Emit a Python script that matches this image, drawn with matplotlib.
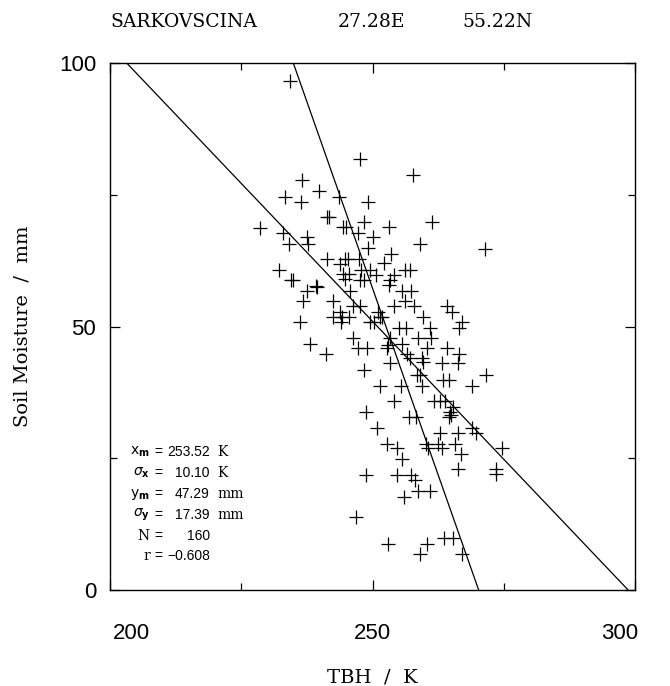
"""Scatter of soil moisture vs TBH at SARKOVSCINA with both regression lines."""

import matplotlib

matplotlib.use("Agg")
import matplotlib.pyplot as plt
import matplotlib.transforms as mtransforms
import numpy as np

# station header
station = "SARKOVSCINA"
lon_label = "27.28E"
lat_label = "55.22N"

tbh = [
    234.3, 247.6, 257.7, 236.5, 239.9, 233.3, 236.3, 243.7, 249.1, 241.3,
    241.8, 228.6, 233.0, 237.6, 234.1, 237.8, 244.3, 244.9, 248.3, 247.3,
    250.0, 253.2, 261.3, 259.0, 249.2, 253.5, 271.4, 241.3, 243.9, 244.8,
    245.3, 247.5, 252.1, 232.1, 244.4, 245.6, 244.8, 247.9, 249.6, 250.7,
    253.3, 254.0, 253.2, 256.2, 257.1, 234.4, 234.9, 247.6, 248.4, 237.6,
    239.2, 239.5, 245.7, 255.6, 257.4, 236.8, 242.5, 256.2, 246.3, 247.6,
    243.8, 251.1, 254.1, 257.9, 264.1, 265.1, 242.5, 244.1, 245.6, 251.4,
    251.9, 259.7, 267.0, 266.5, 236.2, 244.0, 249.5, 250.3, 255.1, 256.4,
    261.0, 246.3, 253.3, 258.7, 261.1, 238.0, 247.3, 248.9, 252.7, 253.0,
    255.6, 260.3, 264.1, 241.1, 256.5, 266.5, 257.1, 259.4, 259.7, 253.3,
    263.3, 266.2, 248.3, 258.4, 259.0, 263.5, 264.6, 271.7, 251.4, 255.4,
    259.5, 269.0, 254.0, 261.8, 262.9, 263.8, 265.4, 264.8, 265.0, 248.8,
    257.0, 258.3, 264.6, 250.9, 262.9, 266.3, 269.0, 269.7, 252.8, 254.6,
    260.2, 260.5, 262.5, 263.3, 265.7, 274.6, 255.7, 266.9, 266.3, 273.5,
    273.6, 248.8, 254.7, 257.4, 258.0, 258.7, 261.0, 256.0, 246.9, 253.0,
    260.4, 263.6, 265.4, 259.0, 267.0,
]
moisture = [
    96.6, 81.8, 78.7, 77.8, 75.8, 74.6, 73.7, 74.6, 73.7, 70.7,
    70.7, 68.7, 67.7, 66.9, 65.7, 65.7, 68.8, 68.8, 69.8, 67.7,
    66.9, 68.8, 69.8, 65.7, 64.8, 63.8, 64.7, 62.8, 61.9, 62.8,
    62.8, 62.8, 62.0, 60.7, 59.9, 59.9, 59.0, 60.7, 60.7, 59.8,
    58.8, 59.8, 57.9, 60.7, 60.7, 58.8, 58.8, 58.8, 58.8, 56.7,
    57.7, 57.5, 56.7, 56.7, 56.7, 54.8, 54.8, 54.8, 53.8, 53.8,
    52.8, 52.8, 53.8, 53.8, 53.8, 52.8, 51.8, 51.8, 51.8, 51.8,
    51.8, 51.8, 50.8, 49.8, 50.8, 50.8, 50.8, 50.8, 49.8, 49.8,
    49.8, 47.9, 47.9, 47.9, 47.9, 46.7, 45.9, 45.9, 45.9, 46.5,
    46.7, 45.9, 45.9, 44.8, 44.8, 44.8, 44.0, 44.0, 43.3, 43.0,
    43.0, 43.0, 41.7, 40.8, 40.8, 39.8, 39.8, 40.8, 38.8, 38.8,
    38.8, 38.8, 35.9, 35.9, 35.9, 35.9, 34.8, 33.8, 33.3, 33.8,
    32.8, 32.8, 32.8, 30.8, 29.7, 29.7, 30.8, 29.7, 27.8, 26.9,
    27.8, 26.9, 27.8, 26.9, 27.8, 26.9, 24.9, 25.8, 23.0, 23.0,
    22.0, 21.8, 21.8, 21.8, 20.9, 18.8, 18.8, 17.7, 13.8, 8.8,
    8.8, 9.8, 9.8, 6.8, 6.8,
]

# summary statistics printed in the panel
x_mean = 253.52
x_std = 10.10
y_mean = 47.29
y_std = 17.39
n_obs = 160
r_corr = -0.608

stat_labels = [r"$\mathrm{x}_\mathbf{m}$", r"$\sigma_\mathbf{x}$", r"$\mathrm{y}_\mathbf{m}$",
               r"$\sigma_\mathbf{y}$", "N", "r"]
stat_values = ["253.52", "10.10", "47.29", "17.39", "160", "\u22120.608"]
stat_units = ["K", "K", "mm", "mm", "", ""]

x_ticks = [200, 250, 300]
y_ticks = [0, 50, 100]

SERIF = "DejaVu Serif"
SANS = "Liberation Sans"

fig = plt.figure(figsize=(6.7, 6.86), dpi=100)
ax = fig.add_axes([0.1642, 0.1399, 0.7836, 0.7683])

ax.plot(tbh, moisture, linestyle="none", marker="+", color="black",
        markersize=9.5, markeredgewidth=0.9)

# regression lines: y on x, and x on y
ys = np.array([0.0, 100.0])
slope_yx = r_corr * y_std / x_std
x_yx = x_mean + (ys - y_mean) / slope_yx
ax.plot(x_yx, ys, color="black", linewidth=0.9)
slope_xy = r_corr * x_std / y_std
x_xy = x_mean + slope_xy * (ys - y_mean)
ax.plot(x_xy, ys, color="black", linewidth=0.9)

ax.set_xlim(200, 300)
ax.set_ylim(0, 100)
ax.set_xticks(x_ticks)
ax.set_yticks(y_ticks)
ax.set_xticks([225, 275], minor=True)
ax.set_yticks([25, 75], minor=True)
ax.tick_params(which="both", direction="in", top=True, right=True, width=0.9)
ax.tick_params(which="major", length=7)
ax.tick_params(which="minor", length=5)
ax.tick_params(axis="x", which="major", pad=24, labelsize=16)
ax.tick_params(axis="y", which="major", pad=10, labelsize=16)
for lab in ax.get_xticklabels() + ax.get_yticklabels():
    lab.set_fontfamily(SANS)
for sp in ax.spines.values():
    sp.set_linewidth(1.0)

# edge x labels sit inside the frame ends
xl = ax.get_xticklabels()
xl[0].set_transform(xl[0].get_transform() + mtransforms.ScaledTranslation(0.21, 0, fig.dpi_scale_trans))
xl[-1].set_transform(xl[-1].get_transform() + mtransforms.ScaledTranslation(-0.15, 0, fig.dpi_scale_trans))

ax.set_xlabel("TBH  /  K", fontfamily=SERIF, fontsize=14)
ax.set_ylabel("Soil Moisture  /  mm", fontfamily=SERIF, fontsize=14)
ax.xaxis.set_label_coords(0.5, -0.148)
ax.yaxis.set_label_coords(-0.150, 0.5)

# header line
ax.text(0.0, 1.068, station, transform=ax.transAxes, fontfamily=SERIF, fontsize=13.5)
ax.text(0.434, 1.068, lon_label, transform=ax.transAxes, fontfamily=SERIF, fontsize=13.5)
ax.text(0.672, 1.068, lat_label, transform=ax.transAxes, fontfamily=SERIF, fontsize=13.5)

# statistics block
row_y = [0.262, 0.222, 0.182, 0.142, 0.102, 0.064]
for yy, lab, val, unit in zip(row_y, stat_labels, stat_values, stat_units):
    ax.text(0.076, yy, lab, transform=ax.transAxes, ha="right", va="center",
            fontfamily=SERIF, fontsize=10)
    ax.text(0.092, yy, "=", transform=ax.transAxes, ha="center", va="center",
            fontfamily=SANS, fontsize=10)
    ax.text(0.190, yy, val, transform=ax.transAxes, ha="right", va="center",
            fontfamily=SANS, fontsize=10)
    if unit:
        ax.text(0.204, yy, unit, transform=ax.transAxes, ha="left", va="center",
                fontfamily=SERIF, fontsize=10)

fig.savefig("out.png", dpi=100)
